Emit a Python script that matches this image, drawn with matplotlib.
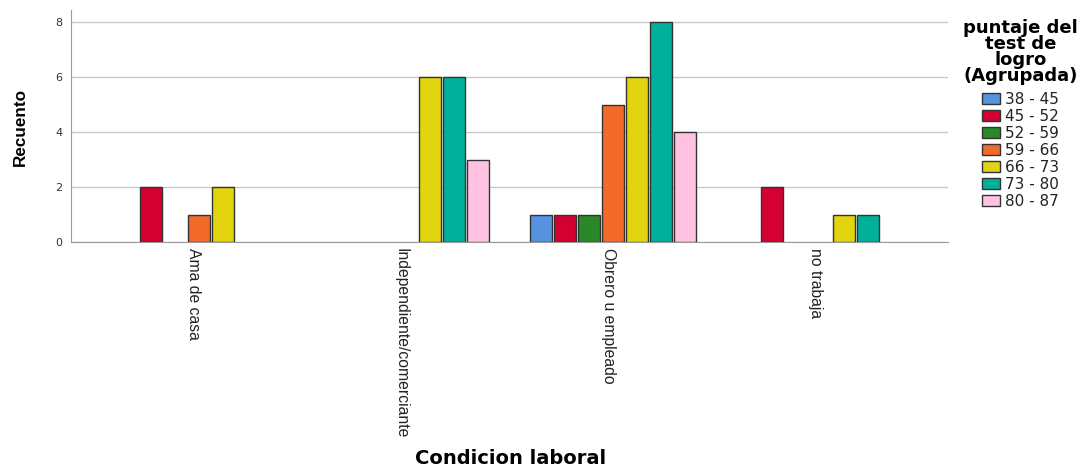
import numpy as np
import matplotlib.pyplot as plt
from matplotlib.patches import Patch
from matplotlib.transforms import ScaledTranslation

# datos: condicion laboral x puntaje agrupado
categorias = ["Ama de casa", "Independiente/comerciante", "Obrero u empleado", "no trabaja"]
rangos = ["38 - 45", "45 - 52", "52 - 59", "59 - 66", "66 - 73", "73 - 80", "80 - 87"]
r38_45 = [0, 0, 1, 0]
r45_52 = [2, 0, 1, 2]
r52_59 = [0, 0, 1, 0]
r59_66 = [1, 0, 5, 0]
r66_73 = [2, 6, 6, 1]
r73_80 = [0, 6, 8, 1]
r80_87 = [0, 3, 4, 0]
recuentos = [r38_45, r45_52, r52_59, r59_66, r66_73, r73_80, r80_87]

colores = ["#5792e0", "#d50032", "#2a872a", "#f26a2a", "#e2d50f", "#00b09b", "#ffc2e0"]

plt.rcParams['font.family'] = ['DejaVu Sans']

fig = plt.figure(figsize=(10.88, 4.66), dpi=100)
ax = fig.add_axes([0.0653, 0.4807, 0.806, 0.4979])

x = np.arange(len(categorias))
paso = 24 / 207
ancho = 22 / 207
for i, (vals, col) in enumerate(zip(recuentos, colores)):
    vals = np.array(vals)
    m = vals > 0
    ax.bar(x[m] + (i - 3) * paso, vals[m], width=ancho, color=col,
           edgecolor="#333333", linewidth=1, zorder=3)

ax.set_xlim(-0.618, 3.618)
ax.set_ylim(0, 8.44)
ax.set_yticks([0, 2, 4, 6, 8])
ax.yaxis.grid(True, color="#c8c8c8", linewidth=1, zorder=0)
ax.set_axisbelow(True)
for s in ["top", "right"]:
    ax.spines[s].set_visible(False)
ax.spines["left"].set_color("#999999")
ax.spines["bottom"].set_color("#999999")
ax.tick_params(axis="both", length=0)
ax.tick_params(axis="y", labelsize=8, pad=6, labelcolor="#333333")
ax.set_xticks(x)
ax.set_xticklabels(categorias, rotation=-90, fontsize=11.3, va="top", ha="center",
                   color="#222222", family=["Liberation Sans", "DejaVu Sans"])
ax.tick_params(axis="x", pad=4)
for lab in ax.get_xticklabels():
    lab.set_transform(lab.get_transform() + ScaledTranslation(-0.05, 0, fig.dpi_scale_trans))

fig.text(0.0185, 0.727, "Recuento", rotation=90, fontsize=12.3, fontweight="bold",
         family=["Liberation Sans", "DejaVu Sans"], ha="center", va="center")
fig.text(0.469, -0.004, "Condicion laboral", fontsize=14, fontweight="bold",
         ha="center", va="bottom")

handles = [Patch(facecolor=c, edgecolor="#333333", linewidth=1) for c in colores]
leg = ax.legend(handles, rangos, loc="upper center", bbox_to_anchor=(0.938, 0.975),
                bbox_transform=fig.transFigure, frameon=False, fontsize=11,
                title="puntaje del\ntest de\nlogro\n(Agrupada)",
                title_fontproperties={"weight": "bold", "size": 13},
                handlelength=1.2, handleheight=0.72, handletextpad=0.35,
                labelspacing=0.13, borderpad=0)
leg.get_title().set_multialignment("center")
leg.get_title().set_linespacing(0.85)
leg._legend_box.sep = 5
for t in leg.get_texts():
    t.set_color("#222222")

fig.savefig("out.png", dpi=100)
